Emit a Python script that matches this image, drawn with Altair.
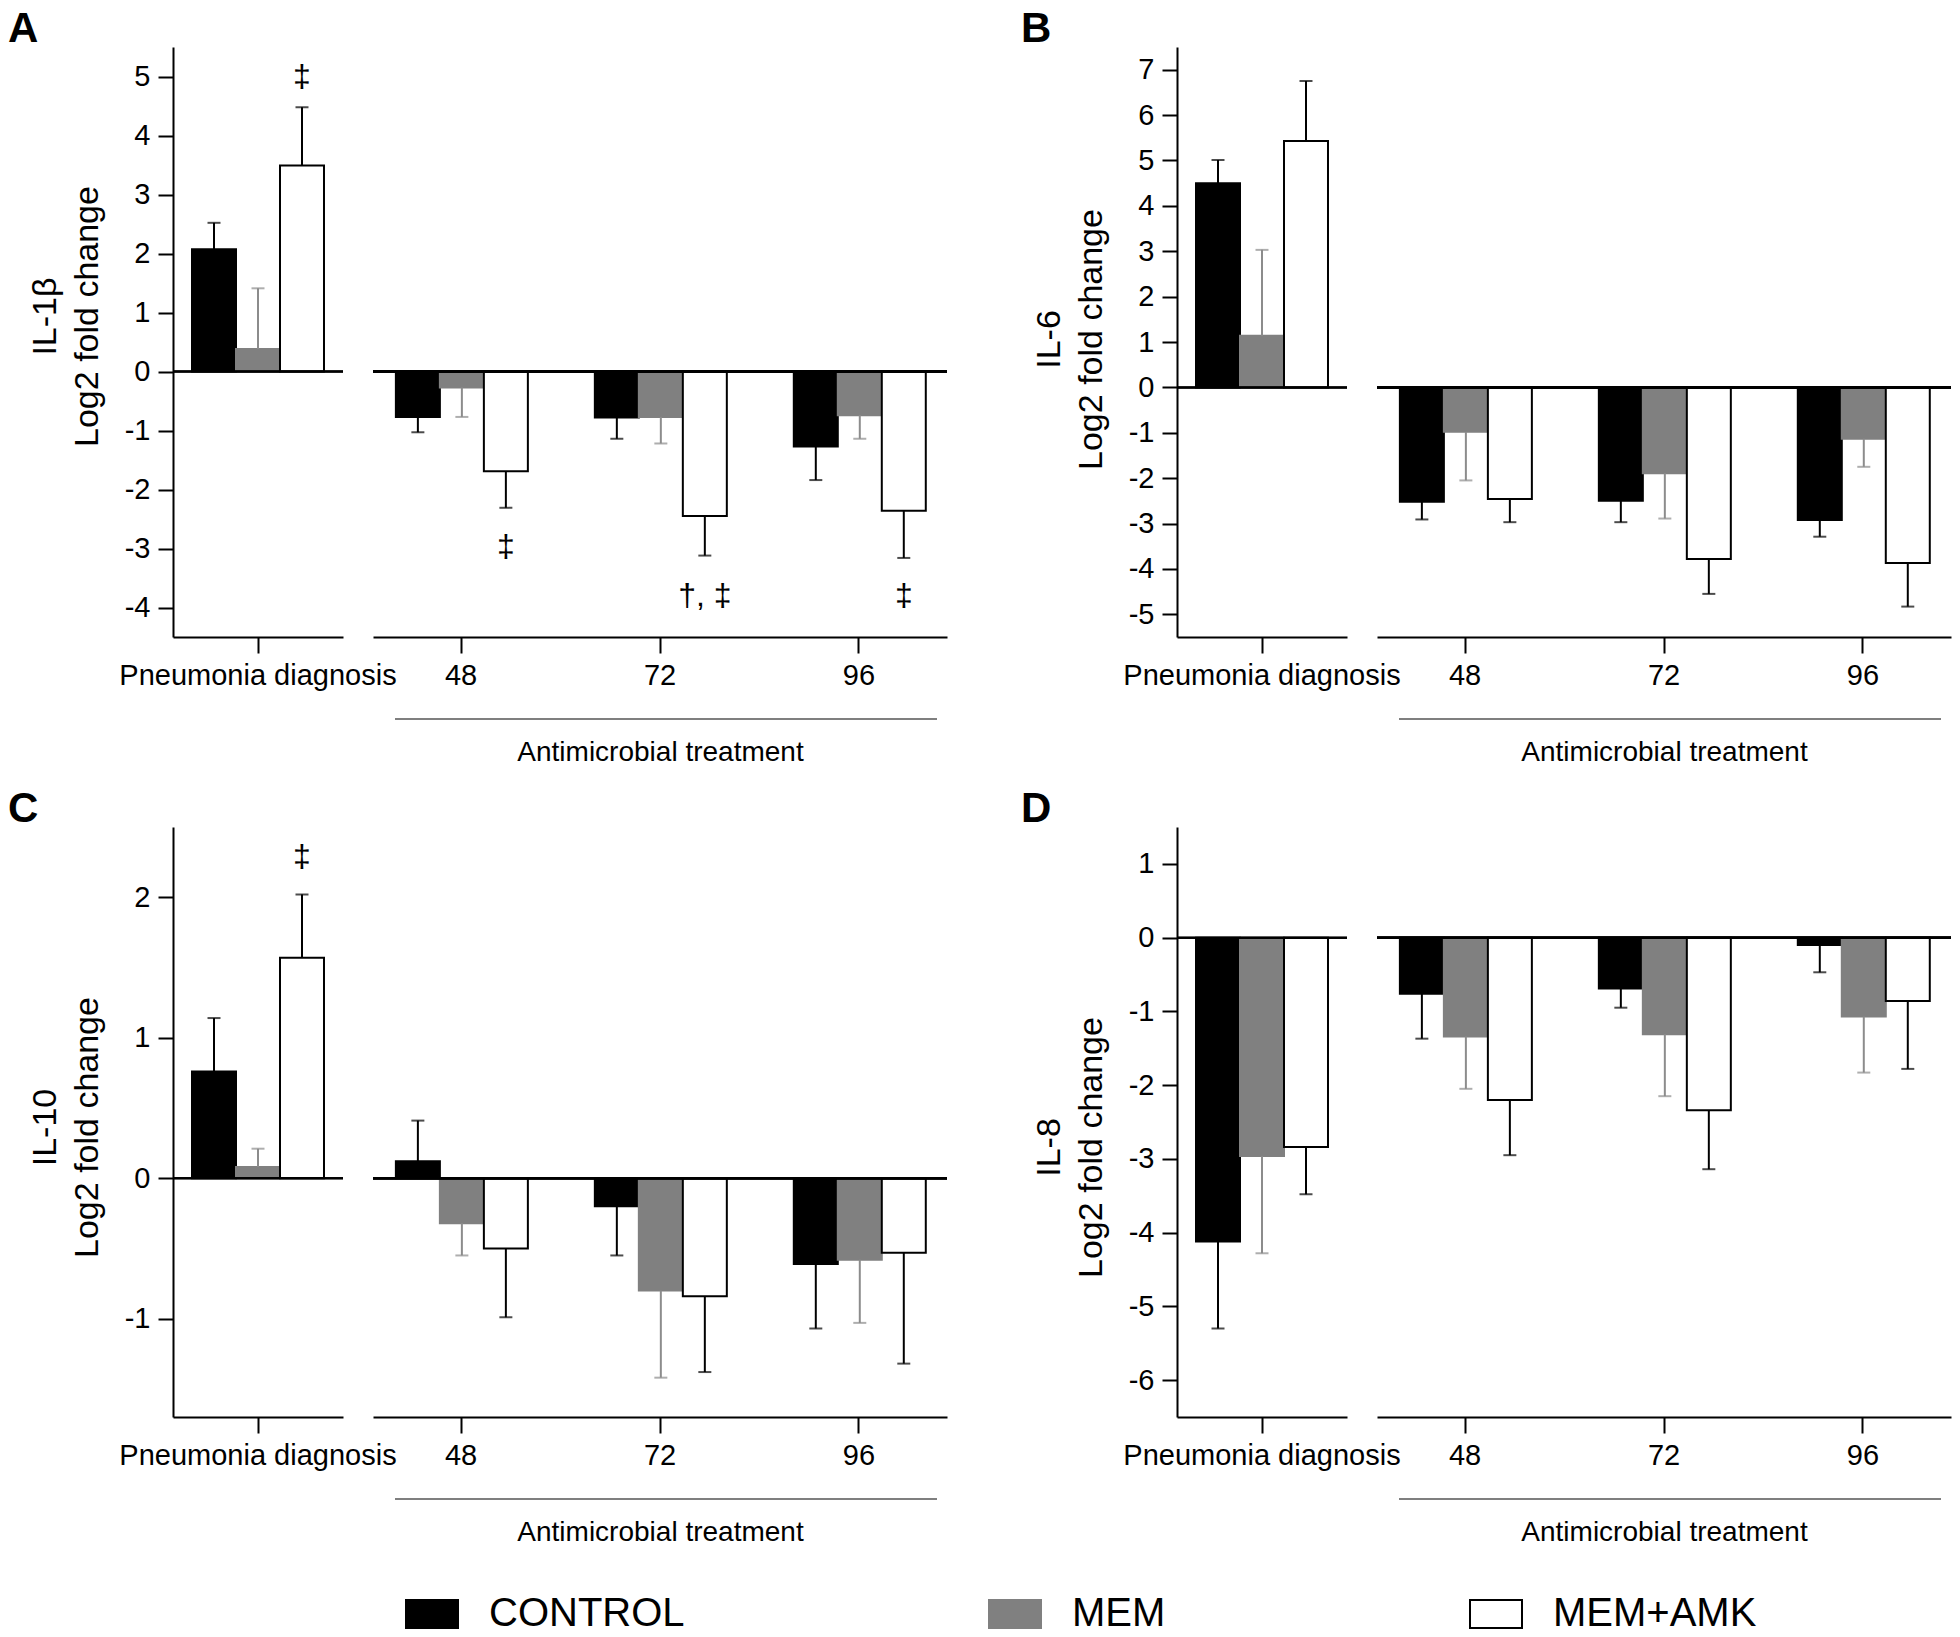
import altair as alt
import pandas as pd

FONT = "Liberation Sans"

GROUPS = ["CONTROL", "MEM", "MEM+AMK"]
LEFT_TIMES = ["Pneumonia diagnosis"]
RIGHT_TIMES = ["48", "72", "96"]
TIMES = LEFT_TIMES + RIGHT_TIMES

FILL = ["#000000", "#808080", "#ffffff"]
STROKE = ["#000000", "#808080", "#000000"]
ERR_COLOR = ["#000000", "#8c8c8c", "#000000"]

# Mean log2 fold change at [diagnosis, 48, 72, 96] and error-bar length
IL1B_CONTROL = [2.07, -0.77, -0.78, -1.27]
IL1B_CONTROL_ERR = [0.45, 0.26, 0.36, 0.57]
IL1B_MEM = [0.38, -0.27, -0.77, -0.74]
IL1B_MEM_ERR = [1.03, 0.50, 0.45, 0.40]
IL1B_MEMAMK = [3.49, -1.69, -2.45, -2.36]
IL1B_MEMAMK_ERR = [0.99, 0.62, 0.67, 0.80]

IL6_CONTROL = [4.50, -2.52, -2.50, -2.92]
IL6_CONTROL_ERR = [0.51, 0.39, 0.47, 0.37]
IL6_MEM = [1.14, -0.98, -1.89, -1.13]
IL6_MEM_ERR = [1.89, 1.07, 1.00, 0.62]
IL6_MEMAMK = [5.43, -2.46, -3.78, -3.87]
IL6_MEMAMK_ERR = [1.32, 0.51, 0.77, 0.96]

IL10_CONTROL = [0.76, 0.12, -0.20, -0.61]
IL10_CONTROL_ERR = [0.38, 0.29, 0.35, 0.46]
IL10_MEM = [0.08, -0.32, -0.80, -0.58]
IL10_MEM_ERR = [0.13, 0.23, 0.62, 0.45]
IL10_MEMAMK = [1.57, -0.50, -0.84, -0.53]
IL10_MEMAMK_ERR = [0.45, 0.49, 0.54, 0.79]

IL8_CONTROL = [-4.12, -0.76, -0.69, -0.10]
IL8_CONTROL_ERR = [1.18, 0.61, 0.26, 0.37]
IL8_MEM = [-2.96, -1.34, -1.31, -1.07]
IL8_MEM_ERR = [1.32, 0.71, 0.84, 0.76]
IL8_MEMAMK = [-2.84, -2.20, -2.34, -0.86]
IL8_MEMAMK_ERR = [0.64, 0.75, 0.80, 0.92]

# Significance symbols (placed over the MEM+AMK bar)
IL1B_MARK_TIMES = ["Pneumonia diagnosis", "48", "72", "96"]
IL1B_MARK_Y = [5.0, -2.98, -3.8, -3.8]
IL1B_MARK_TEXT = ["‡", "‡", "†, ‡", "‡"]
IL10_MARK_TIMES = ["Pneumonia diagnosis"]
IL10_MARK_Y = [2.29]
IL10_MARK_TEXT = ["‡"]

PANELS = [
    dict(letter="A", name="IL-1β", means=[IL1B_CONTROL, IL1B_MEM, IL1B_MEMAMK],
         errs=[IL1B_CONTROL_ERR, IL1B_MEM_ERR, IL1B_MEMAMK_ERR],
         marks=(IL1B_MARK_TIMES, IL1B_MARK_Y, IL1B_MARK_TEXT),
         ydom=[-4.5, 5.5], yticks=list(range(-4, 6)), dx=-165, titleY=269),
    dict(letter="B", name="IL-6", means=[IL6_CONTROL, IL6_MEM, IL6_MEMAMK],
         errs=[IL6_CONTROL_ERR, IL6_MEM_ERR, IL6_MEMAMK_ERR],
         marks=([], [], []),
         ydom=[-5.5, 7.5], yticks=list(range(-5, 8)), dx=-156, titleY=292),
    dict(letter="C", name="IL-10", means=[IL10_CONTROL, IL10_MEM, IL10_MEMAMK],
         errs=[IL10_CONTROL_ERR, IL10_MEM_ERR, IL10_MEMAMK_ERR],
         marks=(IL10_MARK_TIMES, IL10_MARK_Y, IL10_MARK_TEXT),
         ydom=[-1.7, 2.5], yticks=[-1, 0, 1, 2], dx=-165, titleY=300),
    dict(letter="D", name="IL-8", means=[IL8_CONTROL, IL8_MEM, IL8_MEMAMK],
         errs=[IL8_CONTROL_ERR, IL8_MEM_ERR, IL8_MEMAMK_ERR],
         marks=([], [], []),
         ydom=[-6.5, 1.5], yticks=list(range(-6, 2)), dx=-156, titleY=320),
]

LEGEND = alt.Legend(
    title=None, orient="none", legendX=232, legendY=1540, direction="horizontal",
    symbolType="M-1,-0.54H1V0.54H-1Z", symbolSize=2704, symbolStrokeWidth=2,
    labelFontSize=40, labelFont=FONT, labelColor="black", labelOffset=30,
    columnPadding=300, gridAlign="none", labelLimit=500,
)

RIGHT_W = 574


def panel_frames(p):
    rows = []
    for g, means, errs in zip(GROUPS, p["means"], p["errs"]):
        for t, m, e in zip(TIMES, means, errs):
            end = m + e if m >= 0 else m - e
            rows.append(dict(time=t, group=g, mean=m, end=end))
    df = pd.DataFrame(rows)
    mt, my, mtext = p["marks"]
    ann = pd.DataFrame(dict(time=mt, group=["MEM+AMK"] * len(mt), ypos=my, label=mtext))
    return df, ann


def make_sub(df, ann, times, is_left, p):
    width = 170 if is_left else RIGHT_W
    if is_left:
        xscale = alt.Scale(domain=times, paddingInner=0, paddingOuter=0.144)
    else:
        xscale = alt.Scale(domain=times, paddingInner=0.345, paddingOuter=0.115)
    xaxis = alt.Axis(
        title=None if is_left else "Antimicrobial treatment",
        labelAngle=0, labelFontSize=29, labelLimit=500, tickSize=16, labelPadding=8,
        titleFontSize=28, titleFontWeight="normal", titlePadding=48,
        domainWidth=2, tickWidth=2,
    )
    X = alt.X("time:N", sort=times, scale=xscale, axis=xaxis)
    XO = alt.XOffset("group:N", sort=GROUPS,
                     scale=alt.Scale(domain=GROUPS, paddingInner=0, paddingOuter=0))
    yscale = alt.Scale(domain=p["ydom"], nice=False)
    if is_left:
        yaxis = alt.Axis(
            values=p["yticks"], title=[p["name"], "Log2 fold change"],
            labelExpr="'' + datum.value",
            titleFontSize=34, titleFontWeight="normal", titlePadding=20, titleLineHeight=42,
            titleY=p["titleY"],
            labelFontSize=29, tickSize=15, labelPadding=8, domainWidth=2, tickWidth=2,
        )
    else:
        yaxis = None

    color = alt.Color("group:N", sort=GROUPS,
                      scale=alt.Scale(domain=GROUPS, range=ERR_COLOR), legend=None)

    bars = alt.Chart(df).mark_bar(strokeWidth=2).encode(
        x=X, xOffset=XO,
        y=alt.Y("mean:Q", scale=yscale, axis=yaxis),
        fill=alt.Fill("group:N", sort=GROUPS, scale=alt.Scale(domain=GROUPS, range=FILL), legend=LEGEND),
        stroke=alt.Stroke("group:N", sort=GROUPS, scale=alt.Scale(domain=GROUPS, range=STROKE), legend=LEGEND),
    )
    zero = alt.Chart(df).mark_rule(color="black", strokeWidth=2).encode(
        y=alt.YDatum(0, scale=yscale, axis=yaxis)
    )
    err = alt.Chart(df).mark_rule(strokeWidth=2).encode(
        x=X, xOffset=XO,
        y=alt.Y("mean:Q", scale=yscale, axis=yaxis), y2="end:Q",
        color=color,
    )
    caps = alt.Chart(df).mark_tick(orient="horizontal", size=13, thickness=2).encode(
        x=X, xOffset=XO,
        y=alt.Y("end:Q", scale=yscale, axis=yaxis),
        color=color,
    )
    layers = [bars, zero, err, caps]
    if len(ann):
        txt = alt.Chart(ann).mark_text(fontSize=32, font=FONT, color="black").encode(
            x=X, xOffset=XO,
            y=alt.Y("ypos:Q", scale=yscale, axis=yaxis),
            text="label:N",
        )
        layers.append(txt)
    if not is_left:
        bracket = alt.Chart(pd.DataFrame({"k": [0]})).mark_rule(color="#555555", strokeWidth=1.5).encode(
            x=alt.value(22), x2=alt.value(RIGHT_W - 10), y=alt.value(672)
        )
        layers.append(bracket)
    ch = alt.layer(*layers).properties(width=width, height=590)
    if is_left:
        ch = ch.properties(title=alt.TitleParams(
            p["letter"], anchor="start", frame="group", dx=p["dx"], offset=-37,
            baseline="alphabetic", fontSize=42, fontWeight="bold", font=FONT, color="black",
        ))
    return ch


def make_panel(p):
    df, ann = panel_frames(p)
    ldf = df[df["time"].isin(LEFT_TIMES)]
    rdf = df[df["time"].isin(RIGHT_TIMES)]
    lann = ann[ann["time"].isin(LEFT_TIMES)]
    rann = ann[ann["time"].isin(RIGHT_TIMES)]
    left = make_sub(ldf, lann, LEFT_TIMES, True, p)
    right = make_sub(rdf, rann, RIGHT_TIMES, False, p)
    return left, right


def spacer():
    return alt.Chart(pd.DataFrame({"k": [0]})).mark_point(opacity=0).encode(
        x=alt.value(0), y=alt.value(0)
    ).properties(width=170, height=590)


aL, aR = make_panel(PANELS[0])
bL, bR = make_panel(PANELS[1])
cL, cR = make_panel(PANELS[2])
dL, dR = make_panel(PANELS[3])

chart = alt.concat(
    aL, aR, spacer(), bL, bR,
    cL, cR, spacer(), dL, dR,
    columns=5, spacing=alt.RowColnumber(row=190, column=30), align="each", bounds="flush",
).properties(
    padding=0
).configure_axis(
    labelFont=FONT, titleFont=FONT, labelColor="black", titleColor="black",
    domainColor="black", tickColor="black", grid=False,
).configure_view(stroke=None).configure_title(font=FONT)

chart.save("out.html", embed_options={"renderer": "svg", "actions": False})
